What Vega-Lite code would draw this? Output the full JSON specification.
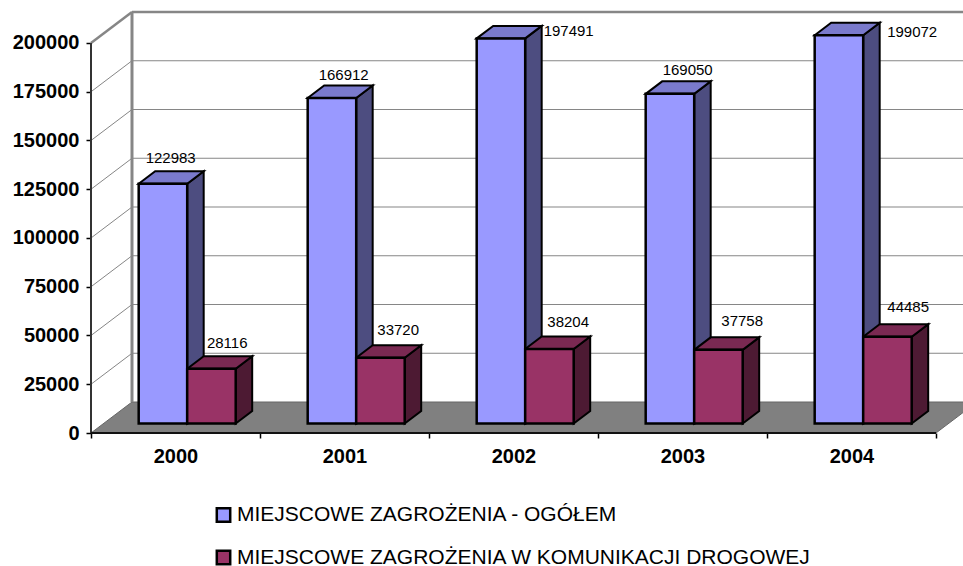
{
"$schema":"https://vega.github.io/schema/vega-lite/v6.json",
"width":872,"height":433,
"autosize":{"type":"none"},
"padding":{"left":91,"top":0,"right":0,"bottom":133},
"background":"white",
"config":{"view":{"stroke":null},"font":"Liberation Sans"},
"datasets":{
"bars":[
{"year":2000,"series":"MIEJSCOWE ZAGROŻENIA - OGÓŁEM","value":122983},
{"year":2001,"series":"MIEJSCOWE ZAGROŻENIA - OGÓŁEM","value":166912},
{"year":2002,"series":"MIEJSCOWE ZAGROŻENIA - OGÓŁEM","value":197491},
{"year":2003,"series":"MIEJSCOWE ZAGROŻENIA - OGÓŁEM","value":169050},
{"year":2004,"series":"MIEJSCOWE ZAGROŻENIA - OGÓŁEM","value":199072},
{"year":2000,"series":"MIEJSCOWE ZAGROŻENIA W KOMUNIKACJI DROGOWEJ","value":28116},
{"year":2001,"series":"MIEJSCOWE ZAGROŻENIA W KOMUNIKACJI DROGOWEJ","value":33720},
{"year":2002,"series":"MIEJSCOWE ZAGROŻENIA W KOMUNIKACJI DROGOWEJ","value":38204},
{"year":2003,"series":"MIEJSCOWE ZAGROŻENIA W KOMUNIKACJI DROGOWEJ","value":37758},
{"year":2004,"series":"MIEJSCOWE ZAGROŻENIA W KOMUNIKACJI DROGOWEJ","value":44485}
],
"ticks":[{"tick":25000},{"tick":50000},{"tick":75000},{"tick":100000},{"tick":125000},{"tick":150000},{"tick":175000},{"tick":200000}],
"corners":[{"k":0},{"k":1},{"k":2},{"k":3}],
"one":[{"k":0}]
},
"layer":[
{"data":{"name":"corners"},
 "transform":[
  {"calculate":"[1999.5,1999.7426,2004.5,2004.7426][datum.k]","as":"fx"},
  {"calculate":"[0,15897,15897,15897][datum.k]","as":"fy"},
  {"calculate":"[0,0,0,15897][datum.k]","as":"fy2"}],
 "mark":{"type":"area","orient":"vertical","color":"#808080","stroke":"#666666","strokeWidth":1,"clip":true},
 "encoding":{
  "x":{"field":"fx","type":"quantitative","title":null,
    "scale":{"domain":[1999.5,2004.6598],"nice":false,"zero":false},
    "axis":{"values":[1999.5,2000.5,2001.5,2002.5,2003.5,2004.5],"domain":false,"grid":false,"tickColor":"black","tickWidth":1.5,"tickSize":5,
      "labelExpr":"datum.value < 2004 ? format(datum.value + 0.5, 'd') : ''","labelOffset":84.5,"labelFont":"Liberation Sans","labelFontWeight":"bold","labelFontSize":20,"labelColor":"black","labelPadding":8,"labelOverlap":false,"labelBound":false,"labelFlush":false,"title":null}},
  "y":{"field":"fy","type":"quantitative","title":null,"stack":null,
    "scale":{"domain":[0,222051],"nice":false,"zero":false},
    "axis":{"values":[0,25000,50000,75000,100000,125000,150000,175000,200000],"domain":false,"grid":false,"format":"d","tickColor":"black","tickWidth":1.5,"tickSize":5,"labelFont":"Liberation Sans","labelFontWeight":"bold","labelFontSize":20,"labelColor":"black","labelPadding":7,"labelOverlap":false,"labelBound":false,"labelFlush":false,"title":null}},
  "y2":{"field":"fy2"}}},
{"data":{"name":"ticks"},
 "transform":[{"calculate":"datum.tick + 15897","as":"wy"}],
 "mark":{"type":"rule","color":"#868686","strokeWidth":1.2},
 "encoding":{"x":{"datum":1999.7426},"x2":{"datum":2004.6598},"y":{"field":"wy","type":"quantitative"}}},
{"data":{"name":"ticks"},
 "transform":[{"calculate":"datum.tick + 15897","as":"wy"}],
 "mark":{"type":"rule","color":"#868686","strokeWidth":1},
 "encoding":{"x":{"datum":1999.5},"x2":{"datum":1999.7426},"y":{"field":"tick","type":"quantitative"},"y2":{"field":"wy"}}},
{"data":{"name":"one"},"mark":{"type":"rule","color":"#868686","strokeWidth":3},
 "encoding":{"x":{"datum":1999.7426},"y":{"datum":15897},"y2":{"datum":215897}}},
{"data":{"name":"one"},"mark":{"type":"rule","color":"#868686","strokeWidth":2.5},
 "encoding":{"x":{"datum":1999.7426},"x2":{"datum":2004.6598},"y":{"datum":215897}}},
{"data":{"name":"one"},"mark":{"type":"rule","color":"#868686","strokeWidth":2.5},
 "encoding":{"x":{"datum":1999.5},"x2":{"datum":1999.7426},"y":{"datum":200000},"y2":{"datum":215897}}},
{"data":{"name":"one"},"mark":{"type":"rule","color":"#333333","strokeWidth":2},
 "encoding":{"x":{"datum":1999.5},"y":{"datum":0},"y2":{"datum":200000}}},
{"data":{"name":"one"},"mark":{"type":"rule","color":"#111111","strokeWidth":2},
 "encoding":{"x":{"datum":1999.5},"x2":{"datum":2004.5},"y":{"datum":0}}},

{"data":{"name":"bars"},
 "transform":[
  {"filter":"indexof(datum.series,'OGÓŁEM') >= 0"},
  {"calculate":"datum.year - 0.2178","as":"xL"},
  {"calculate":"[0,1]","as":"k"},{"flatten":["k"]},
  {"calculate":"datum.xL + 0.287 + datum.k*0.0976","as":"sx"},
  {"calculate":"4872 + datum.k*6410","as":"sy2"},
  {"calculate":"datum.value + 4872 + datum.k*6410","as":"sy"}],
 "mark":{"type":"area","orient":"vertical","color":"#4D4D80","stroke":"black","strokeWidth":2,"strokeJoin":"miter"},
 "encoding":{"x":{"field":"sx","type":"quantitative"},"y":{"field":"sy","type":"quantitative","stack":null},"y2":{"field":"sy2"},"detail":{"field":"year"}}},
{"data":{"name":"bars"},
 "transform":[
  {"filter":"indexof(datum.series,'OGÓŁEM') >= 0"},
  {"calculate":"datum.year - 0.2178","as":"xL"},
  {"calculate":"[0,1,2,3]","as":"k"},{"flatten":["k"]},
  {"calculate":"datum.xL + [0,0.0976,0.287,0.3846][datum.k]","as":"tx"},
  {"calculate":"datum.value + 4872 + [0,6410,6410,6410][datum.k]","as":"ty"},
  {"calculate":"datum.value + 4872 + [0,0,0,6410][datum.k]","as":"ty2"}],
 "mark":{"type":"area","orient":"vertical","color":"#7A7ACC","stroke":"black","strokeWidth":2,"strokeJoin":"miter"},
 "encoding":{"x":{"field":"tx","type":"quantitative"},"y":{"field":"ty","type":"quantitative","stack":null},"y2":{"field":"ty2"},"detail":{"field":"year"}}},
{"data":{"name":"bars"},
 "transform":[
  {"filter":"indexof(datum.series,'KOMUNIK') >= 0"},
  {"calculate":"datum.year + 0.0692","as":"xL"},
  {"calculate":"[0,1]","as":"k"},{"flatten":["k"]},
  {"calculate":"datum.xL + 0.287 + datum.k*0.0976","as":"sx"},
  {"calculate":"4872 + datum.k*6410","as":"sy2"},
  {"calculate":"datum.value + 4872 + datum.k*6410","as":"sy"}],
 "mark":{"type":"area","orient":"vertical","color":"#4D1A33","stroke":"black","strokeWidth":2,"strokeJoin":"miter"},
 "encoding":{"x":{"field":"sx","type":"quantitative"},"y":{"field":"sy","type":"quantitative","stack":null},"y2":{"field":"sy2"},"detail":{"field":"year"}}},
{"data":{"name":"bars"},
 "transform":[
  {"filter":"indexof(datum.series,'KOMUNIK') >= 0"},
  {"calculate":"datum.year + 0.0692","as":"xL"},
  {"calculate":"[0,1,2,3]","as":"k"},{"flatten":["k"]},
  {"calculate":"datum.xL + [0,0.0976,0.287,0.3846][datum.k]","as":"tx"},
  {"calculate":"datum.value + 4872 + [0,6410,6410,6410][datum.k]","as":"ty"},
  {"calculate":"datum.value + 4872 + [0,0,0,6410][datum.k]","as":"ty2"}],
 "mark":{"type":"area","orient":"vertical","color":"#7A2952","stroke":"black","strokeWidth":2,"strokeJoin":"miter"},
 "encoding":{"x":{"field":"tx","type":"quantitative"},"y":{"field":"ty","type":"quantitative","stack":null},"y2":{"field":"ty2"},"detail":{"field":"year"}}},
{"data":{"name":"bars"},
 "transform":[
  {"calculate":"datum.year + (indexof(datum.series,'OGÓŁEM') >= 0 ? -0.2178 : 0.0692)","as":"xL"},
  {"calculate":"datum.xL + 0.287","as":"xR"},
  {"calculate":"4872","as":"yB"},
  {"calculate":"datum.value + 4872","as":"yT"}],
 "mark":{"type":"rect","stroke":"black","strokeWidth":2.5},
 "encoding":{
  "x":{"field":"xL","type":"quantitative"},"x2":{"field":"xR"},
  "y":{"field":"yB","type":"quantitative"},"y2":{"field":"yT"},
  "color":{"field":"series","type":"nominal",
    "scale":{"domain":["MIEJSCOWE ZAGROŻENIA - OGÓŁEM","MIEJSCOWE ZAGROŻENIA W KOMUNIKACJI DROGOWEJ"],"range":["#9999FF","#993366"]},
    "legend":{"orient":"none","legendX":122,"legendY":506,"title":null,"padding":0,"symbolType":"square","symbolSize":180,"symbolStrokeColor":"black","symbolStrokeWidth":2.5,"symbolOpacity":1,"labelFont":"Liberation Sans","labelFontSize":21,"labelColor":"black","labelLimit":800,"rowPadding":21.5,"labelOffset":3,"clipHeight":18}}}},
{"data":{"name":"bars"},
 "transform":[
  {"calculate":"datum.year + (indexof(datum.series,'OGÓŁEM') >= 0 ? -0.2178 : 0.0692)","as":"xL"},
  {"calculate":"{'122983':32,'166912':36,'197491':92,'169050':42,'199072':97.5,'28116':40,'33720':42,'38204':43,'37758':48,'44485':45}[datum.value]","as":"ldx"},
  {"calculate":"{'122983':26,'166912':23,'197491':7.5,'169050':24,'199072':3.5,'28116':26,'33720':28,'38204':27,'37758':29,'44485':30}[datum.value]","as":"ldy"},
  {"calculate":"datum.xL + datum.ldx/169","as":"lx"},
  {"calculate":"datum.value + 4872 + datum.ldy*512.82","as":"ly"}],
 "mark":{"type":"text","font":"Liberation Sans","fontSize":15,"color":"black","baseline":"middle","align":"center"},
 "encoding":{"x":{"field":"lx","type":"quantitative"},"y":{"field":"ly","type":"quantitative"},"text":{"field":"value","type":"quantitative","format":"d"}}}
]
}
